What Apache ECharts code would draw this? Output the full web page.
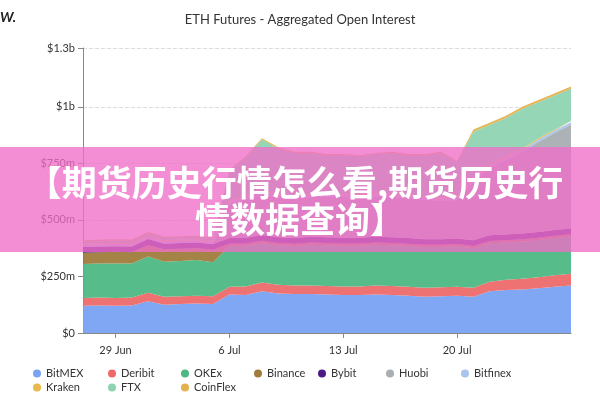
<!DOCTYPE html>
<html><head><meta charset="utf-8">
<script src="https://cdn.jsdelivr.net/npm/echarts@6/dist/echarts.min.js"></script>
<style>html,body{margin:0;padding:0;background:#fff}#c{width:600px;height:400px}</style>
</head><body><div id="c"></div>
<script>
const dates = ['27 Jun','28 Jun','29 Jun','30 Jun','1 Jul','2 Jul','3 Jul','4 Jul','5 Jul','6 Jul','7 Jul','8 Jul','9 Jul','10 Jul','11 Jul','12 Jul','13 Jul','14 Jul','15 Jul','16 Jul','17 Jul','18 Jul','19 Jul','20 Jul','21 Jul','22 Jul','23 Jul','24 Jul','25 Jul','26 Jul','27 Jul'];
const tickLabels = ['29 Jun','6 Jul','13 Jul','20 Jul'];
const yTicks = [0, 250, 500, 750, 1000, 1260];
const BitMEX  = [120,122,120,122,140,125,128,130,128,170,168,185,175,172,172,170,168,168,170,168,165,160,162,165,160,185,190,192,198,205,210];
const Deribit = [35,35,35,35,38,35,35,35,35,35,38,38,38,38,38,38,38,38,40,40,40,40,40,40,40,42,45,48,48,50,52];
const OKEx    = [150,150,152,150,160,155,155,158,150,180,180,175,175,175,180,180,180,180,180,180,180,180,178,178,175,170,165,165,165,165,165];
const Binance = [50,50,52,50,50,55,55,52,55,10,10,10,10,10,10,10,10,10,10,10,10,10,10,10,10,10,10,10,10,10,10];
const Bybit   = [25,25,25,25,28,25,25,25,25,25,25,25,25,25,25,25,25,25,25,25,25,25,25,25,25,25,25,25,25,25,25];
const Huobi   = [0,0,0,0,0,0,0,0,0,150,170,180,175,175,175,180,180,178,180,178,175,175,170,170,260,300,330,360,400,430,460];
const Bitfinex= [10,10,10,10,10,10,10,10,10,10,10,10,10,10,10,10,10,10,10,10,10,10,10,10,10,10,10,10,10,10,10];
const Kraken  = [5,5,5,5,5,5,5,5,5,5,5,5,5,5,5,5,5,5,5,5,5,5,5,5,5,5,5,5,5,5,5];
const FTX     = [10,10,10,10,10,10,10,10,10,130,170,228,203,186,181,168,170,167,171,180,176,181,196,153,205,173,170,175,159,150,143];
const CoinFlex= [5,5,5,5,5,5,5,5,5,5,5,5,5,5,5,5,5,5,5,5,5,5,5,5,10,10,10,10,10,10,10];
const names = ['BitMEX','Deribit','OKEx','Binance','Bybit','Huobi','Bitfinex','Kraken','FTX','CoinFlex'];
const values = [BitMEX,Deribit,OKEx,Binance,Bybit,Huobi,Bitfinex,Kraken,FTX,CoinFlex];
const colors = ['#79a2f2','#ee6a6a','#4db883','#a07b3c','#4b1a84','#a9aeb3','#a8c4ec','#e9b94c','#8ed4b1','#e3b24e'];
const legendCols = [33,108,181,254,318,386,461];
const chart = echarts.init(document.getElementById('c'));
chart.setOption({
  animation:false,
  color:colors,
  title:{text:'ETH Futures - Aggregated Open Interest',left:'center',top:8,textStyle:{fontFamily:'Lato',fontSize:13,fontWeight:'normal',color:'#333'}},
  grid:{left:83,right:29,top:48,bottom:67},
  legend:names.map((n,k)=>({data:[n],left:legendCols[k%7],top:k<7?368:382,icon:'circle',itemWidth:8,itemHeight:8,padding:0,
    textStyle:{fontFamily:'Lato',fontSize:11,color:'#333'}})),
  xAxis:{type:'category',data:dates,boundaryGap:false,
    axisLine:{lineStyle:{color:'#888'}},
    axisTick:{alignWithLabel:true,interval:(i,v)=>tickLabels.includes(v),lineStyle:{color:'#888'}},
    axisLabel:{interval:(i,v)=>tickLabels.includes(v),color:'#333',fontFamily:'Lato',fontSize:11,margin:12}},
  yAxis:{type:'value',min:0,max:1260,
    axisLine:{show:true,lineStyle:{color:'#888'}},axisTick:{show:true,customValues:yTicks,lineStyle:{color:'#888'}},
    splitLine:{lineStyle:{type:'dashed',color:'#ddd'}},
    axisLabel:{color:'#333',fontFamily:'Lato',fontSize:11,
      customValues:yTicks,
      formatter:v=>v===0?'$0':v>=1000?('$'+Math.round(v/100)/10+'b'):('$'+v+'m')}},
  series:names.map((n,k)=>({name:n,type:'line',stack:'oi',data:values[k],symbol:'none',
    lineStyle:{width:0},areaStyle:{color:colors[k],opacity:0.95}})),
  graphic:[
    {type:'text',left:0,top:10,style:{text:'W.',font:'italic bold 14px Lato',fill:'#222'}},
    {type:'rect',shape:{x:0,y:147,width:600,height:105},style:{fill:'rgba(240,110,200,0.78)'},z:100},
    {type:'text',x:295,y:183,style:{text:'【期货历史行情怎么看,期货历史行',fill:'#fff',font:'bold 35px "Noto Sans CJK SC"',align:'center',verticalAlign:'middle'},z:101},
    {type:'text',x:300,y:220,style:{text:'情数据查询】',fill:'#fff',font:'bold 35px "Noto Sans CJK SC"',align:'center',verticalAlign:'middle'},z:101}
  ]
});
</script></body></html>
